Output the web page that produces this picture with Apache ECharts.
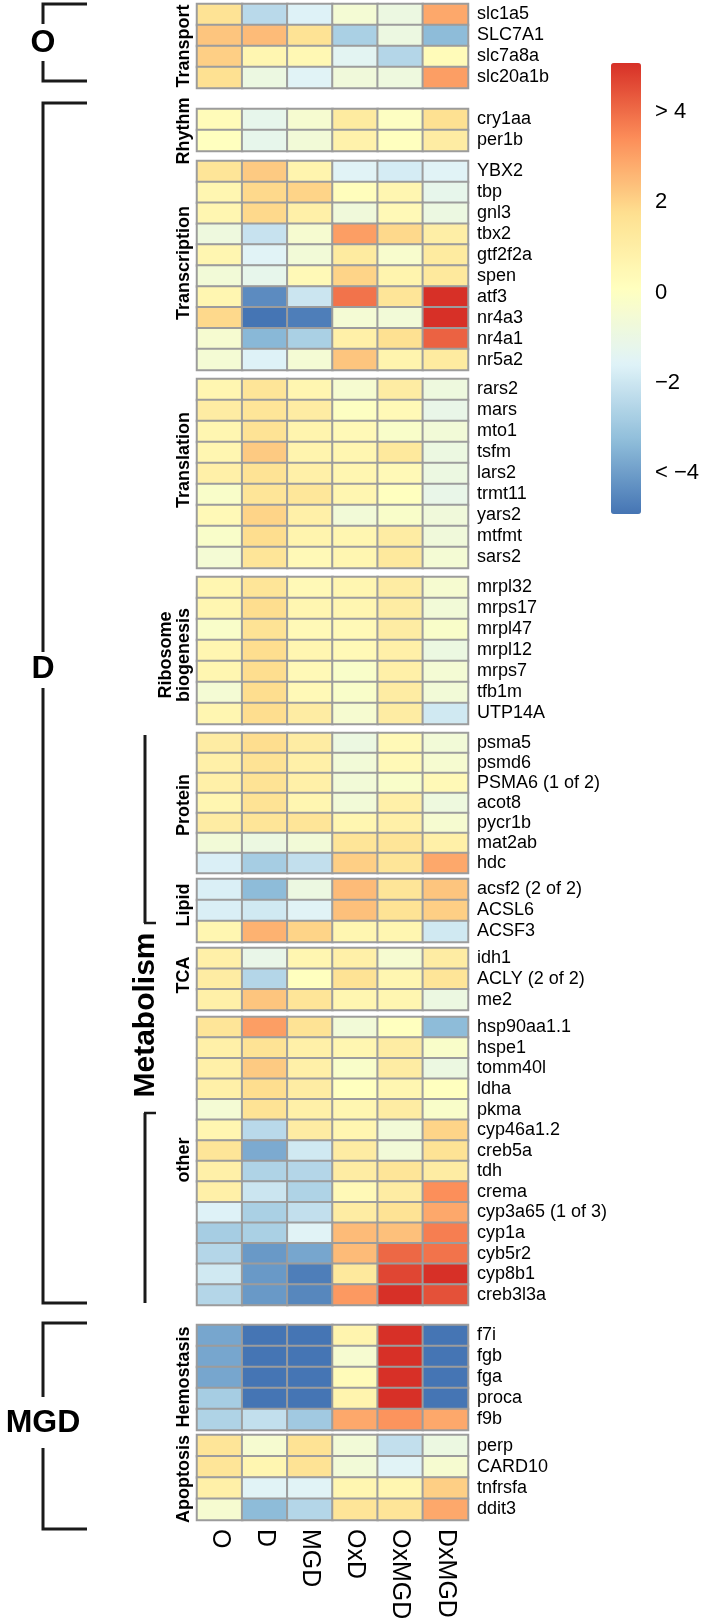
<!DOCTYPE html>
<html>
<head>
<meta charset="utf-8">
<script src="https://cdn.jsdelivr.net/npm/echarts@6/dist/echarts.min.js"></script>
<style>
html,body{margin:0;padding:0;background:#fff;}
#chart{width:709px;height:1624px;}
</style>
</head>
<body>
<div id="chart"></div>
<script>
// ---------------- DATA ----------------
const conditions = ['O', 'D', 'MGD', 'OxD', 'OxMGD', 'DxMGD'];
const colorbarTicks = [-4, -2, 0, 2, 4];

const transportGenes = ['slc1a5', 'SLC7A1', 'slc7a8a', 'slc20a1b'];
const transportValues = [
  [1.5, -2.5, -1.7, -0.6, -1.0, 2.8],
  [2.2, 2.4, 1.5, -2.8, -1.0, -3.4],
  [2.0, 0.5, 0.4, -1.5, -2.6, 0.2],
  [1.6, -1.0, -1.6, -0.8, -0.9, 3.0]
];

const rhythmGenes = ['cry1aa', 'per1b'];
const rhythmValues = [
  [0.2, -1.3, -0.5, 1.1, -0.1, 1.6],
  [0.0, -1.3, -0.7, 0.7, 0.0, 1.0]
];

const transcriptionGenes = ['YBX2', 'tbp', 'gnl3', 'tbx2', 'gtf2f2a', 'spen', 'atf3', 'nr4a3', 'nr4a1', 'nr5a2'];
const transcriptionValues = [
  [1.4, 2.1, 0.6, -1.6, -1.9, -1.6],
  [0.5, 1.8, 1.9, 0.1, 0.5, -1.3],
  [0.5, 1.8, 0.8, -0.8, 0.3, -1.0],
  [-0.9, -2.2, -0.5, 3.0, 1.8, 0.9],
  [0.5, -1.6, -0.7, 1.1, -0.4, 1.1],
  [-0.7, -1.3, 0.3, 1.9, 0.6, 1.2],
  [0.5, -4.5, -2.1, 3.8, 1.4, 5.0],
  [1.8, -5.0, -4.8, -0.6, -0.7, 5.0],
  [-0.5, -3.5, -2.8, 0.8, 1.6, 4.1],
  [-0.6, -1.7, -0.6, 2.2, 0.6, 1.1]
];

const translationGenes = ['rars2', 'mars', 'mto1', 'tsfm', 'lars2', 'trmt11', 'yars2', 'mtfmt', 'sars2'];
const translationValues = [
  [0.5, 1.4, 0.5, -0.5, 1.0, -0.9],
  [1.0, 1.4, 1.0, -0.1, 0.3, -1.2],
  [0.5, 1.5, 0.6, 0.3, -0.3, -0.7],
  [0.5, 2.1, 0.6, 0.5, 1.2, -1.0],
  [0.8, 1.5, 0.8, 0.5, 0.3, -1.0],
  [-0.3, 1.4, 1.3, 0.5, 0.0, -1.2],
  [0.3, 1.9, 0.8, -0.7, -0.3, -0.8],
  [-0.3, 1.7, 0.6, 0.5, 1.0, -0.8],
  [-0.6, 1.4, 0.3, 0.5, 1.2, -0.6]
];

const ribosomeGenes = ['mrpl32', 'mrps17', 'mrpl47', 'mrpl12', 'mrps7', 'tfb1m', 'UTP14A'];
const ribosomeValues = [
  [0.5, 1.4, 0.3, 0.5, 1.0, -0.5],
  [0.5, 1.7, 0.5, 0.5, 1.0, -0.7],
  [-0.3, 1.5, 0.3, 0.3, 1.0, -0.3],
  [0.5, 1.7, 0.5, 0.3, 0.8, -1.0],
  [0.5, 1.7, 0.3, -0.3, 0.8, -0.6],
  [-0.6, 1.7, 0.3, -0.3, 1.0, -0.7],
  [0.5, 1.7, 1.0, -0.5, 1.0, -2.0]
];

const proteinGenes = ['psma5', 'psmd6', 'PSMA6 (1 of 2)', 'acot8', 'pycr1b', 'mat2ab', 'hdc'];
const proteinValues = [
  [1.0, 1.7, 1.0, -1.0, 0.3, -0.7],
  [0.8, 1.5, 0.8, -0.7, 0.3, -0.5],
  [0.8, 1.5, 0.8, -0.7, -0.3, 0.3],
  [0.5, 1.5, 0.5, -0.7, 0.8, -0.9],
  [1.0, 1.4, 1.4, 0.5, 0.8, -0.5],
  [-0.7, -1.0, -0.7, 1.4, 1.4, 0.8],
  [-1.8, -2.9, -2.3, 2.0, 1.4, 2.8]
];

const lipidGenes = ['acsf2 (2 of 2)', 'ACSL6', 'ACSF3'];
const lipidValues = [
  [-1.8, -3.4, -1.0, 2.4, 1.4, 2.2],
  [-1.8, -2.0, -1.6, 2.3, 1.5, 2.0],
  [0.5, 2.6, 1.9, 0.5, 0.5, -2.0]
];

const tcaGenes = ['idh1', 'ACLY (2 of 2)', 'me2'];
const tcaValues = [
  [0.8, -1.2, 0.5, 0.8, -0.5, 1.0],
  [1.0, -2.6, 0.0, 1.5, 0.5, 1.4],
  [0.8, 2.2, 1.4, 0.5, 0.5, -1.0]
];

const otherGenes = ['hsp90aa1.1', 'hspe1', 'tomm40l', 'ldha', 'pkma', 'cyp46a1.2', 'creb5a', 'tdh', 'crema',
  'cyp3a65 (1 of 3)', 'cyp1a', 'cyb5r2', 'cyp8b1', 'creb3l3a'];
const otherValues = [
  [1.4, 3.0, 1.5, -0.7, 0.0, -3.4],
  [0.8, 1.5, 0.8, 0.5, 1.0, -0.3],
  [0.8, 2.1, 0.8, -0.3, 1.0, -1.0],
  [0.8, 1.7, 1.0, 0.0, 0.5, 0.0],
  [-0.6, 1.5, 0.8, 0.5, 1.0, -0.3],
  [0.5, -2.5, 1.0, 0.5, -0.7, 1.9],
  [1.4, -3.8, -2.0, 1.0, -0.7, 1.5],
  [0.8, -2.7, -2.6, 1.0, 1.4, 1.0],
  [0.8, -2.1, -2.7, 0.3, 1.0, 3.3],
  [-1.7, -2.8, -2.3, 1.0, 1.5, 2.8],
  [-2.9, -2.8, -1.6, 2.4, 2.3, 3.6],
  [-2.6, -4.2, -3.9, 2.4, 4.0, 3.8],
  [-2.0, -4.2, -4.8, 1.2, 4.6, 5.0],
  [-2.6, -4.2, -4.6, 3.1, 5.0, 4.4]
];

const hemostasisGenes = ['f7i', 'fgb', 'fga', 'proca', 'f9b'];
const hemostasisValues = [
  [-3.9, -5.0, -5.0, 0.6, 5.0, -5.0],
  [-3.9, -5.0, -5.0, -0.5, 5.0, -5.0],
  [-3.9, -5.0, -5.0, 0.2, 5.0, -5.0],
  [-2.9, -5.0, -5.0, 0.6, 5.0, -5.0],
  [-2.7, -2.3, -3.0, 2.8, 3.2, 2.8]
];

const apoptosisGenes = ['perp', 'CARD10', 'tnfrsfa', 'ddit3'];
const apoptosisValues = [
  [1.4, -0.5, 1.5, -0.7, -2.3, -1.0],
  [1.4, 0.5, 1.5, -0.7, -1.6, -0.5],
  [0.8, -1.6, -1.6, 0.5, 0.5, 2.0],
  [-0.5, -3.4, -2.6, 1.4, 1.4, 2.8]
];

// ---------------- LAYOUT ----------------
const blocks = [
  {genes: transportGenes, values: transportValues, top: 4, height: 84},
  {genes: rhythmGenes, values: rhythmValues, top: 109, height: 42},
  {genes: transcriptionGenes, values: transcriptionValues, top: 161, height: 209},
  {genes: translationGenes, values: translationValues, top: 379, height: 189},
  {genes: ribosomeGenes, values: ribosomeValues, top: 577, height: 147},
  {genes: proteinGenes, values: proteinValues, top: 733, height: 140},
  {genes: lipidGenes, values: lipidValues, top: 879, height: 63},
  {genes: tcaGenes, values: tcaValues, top: 948, height: 62},
  {genes: otherGenes, values: otherValues, top: 1017, height: 288},
  {genes: hemostasisGenes, values: hemostasisValues, top: 1325, height: 105},
  {genes: apoptosisGenes, values: apoptosisValues, top: 1435, height: 85}
];

const FONT = '"Liberation Sans", Arial, Helvetica, sans-serif';
const palette = ['#4575b4', '#91bfdb', '#e0f3f8', '#ffffbf', '#fee090', '#fc8d59', '#d73027'];

const grids = [], xAxes = [], yAxes = [], series = [];
blocks.forEach((b, i) => {
  const last = i === blocks.length - 1;
  grids.push({left: 197, width: 271, top: b.top, height: b.height, containLabel: false});
  xAxes.push({
    type: 'category', gridIndex: i, data: conditions, position: 'bottom',
    axisLine: {show: false}, axisTick: {show: false}, splitLine: {show: false},
    axisLabel: last ? {show: true, rotate: -90, fontSize: 25, color: '#000', fontFamily: FONT, margin: 9, interval: 0} : {show: false}
  });
  yAxes.push({
    type: 'category', gridIndex: i, data: b.genes, inverse: true, position: 'right',
    axisLine: {show: false}, axisTick: {show: false}, splitLine: {show: false},
    axisLabel: {show: true, fontSize: 18, color: '#000', fontFamily: FONT, margin: 9, interval: 0}
  });
  const data = [];
  b.values.forEach((row, r) => row.forEach((v, c) => data.push([c, r, v])));
  series.push({
    type: 'heatmap', xAxisIndex: i, yAxisIndex: i, data: data,
    itemStyle: {borderColor: '#9c9c9c', borderWidth: 2},
    emphasis: {disabled: true}, progressive: 0
  });
});

// colour bar scale (labels)
const cbIndex = blocks.length;
grids.push({left: 611, width: 30, top: 112, height: 361});
xAxes.push({type: 'value', gridIndex: cbIndex, show: false, min: 0, max: 1});
yAxes.push({
  type: 'value', gridIndex: cbIndex, position: 'right', min: colorbarTicks[0], max: colorbarTicks[colorbarTicks.length - 1], interval: 2,
  axisLine: {show: false}, axisTick: {show: false}, splitLine: {show: false},
  axisLabel: {
    show: true, fontSize: 22, color: '#000', fontFamily: FONT, margin: 14,
    formatter: v => v === 4 ? '> 4' : (v === -4 ? '< \u22124' : (v < 0 ? '\u2212' + (-v) : String(v)))
  }
});

// ---------------- ANNOTATIONS ----------------
const ink = '#1a1a1a';
function poly(points, w) {
  return {type: 'polyline', shape: {points: points}, style: {stroke: ink, lineWidth: w || 3, fill: null, lineJoin: 'miter'}, silent: true};
}
function txt(x, y, text, font, rot) {
  return {
    type: 'text', x: x, y: y, rotation: rot || 0, silent: true,
    style: {text: text, font: font, fill: '#000', align: 'center', verticalAlign: 'middle', textAlign: 'center', textVerticalAlign: 'middle'}
  };
}
const R = Math.PI / 2;
const titleFont = 'bold 18px ' + FONT;
const bigFont = 'bold 32px ' + FONT;
const graphics = [
  // O bracket
  poly([[87, 4], [43, 4], [43, 24]]),
  poly([[43, 61], [43, 81], [87, 81]]),
  txt(43, 43, 'O', bigFont),
  // D bracket
  poly([[87, 103], [43, 103], [43, 652]]),
  poly([[43, 688], [43, 1303], [87, 1303]]),
  txt(43, 669, 'D', bigFont),
  // MGD bracket
  poly([[87, 1323], [43, 1323], [43, 1397]]),
  poly([[43, 1448], [43, 1529], [87, 1529]]),
  txt(43, 1423, 'MGD', bigFont),
  // Metabolism
  poly([[145, 735], [145, 923]]),
  poly([[144, 923], [156, 923]], 2.5),
  poly([[144, 1113], [156, 1113]], 2.5),
  poly([[145, 1113], [145, 1303]]),
  txt(146, 1015, 'Metabolism', 'bold 30px ' + FONT, R),
  // block titles
  txt(184, 46, 'Transport', titleFont, R),
  txt(184, 131, 'Rhythm', titleFont, R),
  txt(184, 263, 'Transcription', titleFont, R),
  txt(184, 460, 'Translation', titleFont, R),
  txt(175, 655, 'Ribosome\nbiogenesis', titleFont, R),
  txt(184, 805, 'Protein', titleFont, R),
  txt(184, 905, 'Lipid', titleFont, R),
  txt(184, 975, 'TCA', titleFont, R),
  txt(184, 1160, 'other', titleFont, R),
  txt(184, 1377, 'Hemostasis', titleFont, R),
  txt(184, 1479, 'Apoptosis', titleFont, R)
];

const chart = echarts.init(document.getElementById('chart'), null, {renderer: 'canvas'});
chart.setOption({
  backgroundColor: '#ffffff',
  animation: false,
  textStyle: {fontFamily: FONT},
  grid: grids,
  xAxis: xAxes,
  yAxis: yAxes,
  visualMap: {
    type: 'continuous', min: -5, max: 5, calculable: false, realtime: false,
    seriesIndex: series.map((s, i) => i),
    inRange: {color: palette},
    orient: 'vertical', left: 611, top: 63, padding: 0,
    itemWidth: 30, itemHeight: 451, text: null, showLabel: false
  },
  series: series,
  graphic: {elements: graphics}
});
</script>
</body>
</html>
